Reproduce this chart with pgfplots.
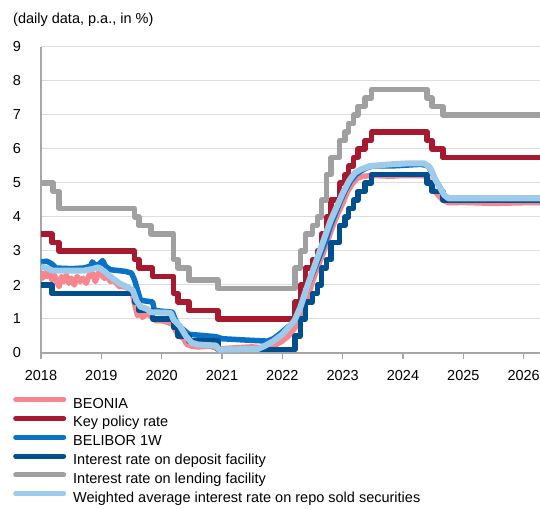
\documentclass[border=0pt]{standalone}
\usepackage{fontspec}
\setmainfont{Liberation Sans}
\usepackage{pgfplots}
\pgfplotsset{compat=1.18}
\definecolor{cBeonia}{HTML}{F7868F}
\definecolor{cKey}{HTML}{A6192E}
\definecolor{cBelibor}{HTML}{0A72C6}
\definecolor{cDep}{HTML}{00508F}
\definecolor{cLend}{HTML}{A0A0A0}
\definecolor{cRepo}{HTML}{9FCBEB}
\definecolor{cGrid}{HTML}{DDDDDD}
\definecolor{cAxis}{HTML}{A6A6A6}
\newcommand{\fs}{\fontsize{14.5}{17}\selectfont}
\begin{document}
\begin{tikzpicture}
\useasboundingbox (0,0) rectangle (540pt,508pt);
\node[anchor=base west, inner sep=0pt, font=\fs] at (13pt,484pt) {(daily data, p.a., in \%)};
\begin{axis}[
  at={(41pt,155pt)}, anchor=south west,
  scale only axis, width=499pt, height=306pt,
  xmin=2018, xmax=2026.27, ymin=0, ymax=9,
  xtick={2018,2019,...,2026}, ytick={0,1,...,9},
  /pgf/number format/1000 sep={},
  /pgf/number format/assume math mode=true,
  tick label style={font=\fs},
  axis lines*=left,
  axis line style={-, draw=cAxis, line width=1.6pt},
  ymajorgrids, grid style={draw=cGrid, line width=1pt},
  xtick style={draw=cAxis, line width=1.2pt}, tick align=outside, major tick length=6pt,
  ytick style={draw=none},
  yticklabel style={anchor=east, inner sep=0pt, xshift=-14pt},
  xticklabel style={anchor=north, inner sep=0pt, yshift=-11pt},
  clip=true,
  legend cell align=left,
  legend style={at={(axis description cs:-0.0561,-0.1437)}, anchor=north west,
    draw=none, fill=none, inner sep=0pt, row sep=3.8pt, font=\fs,
    nodes={inner sep=0pt, text height=11pt, text depth=4pt}},
  legend image code/.code={\draw[#1, line cap=round, line width=5pt] (2.5pt,5pt) -- (50.5pt,5pt); \path (57pt,0pt);},
]
% BEONIA
\addplot[cBeonia, line width=5.5pt, line join=round] coordinates {
(2018.00,2.40)(2018.03,2.20)(2018.06,2.35)(2018.10,2.25)(2018.14,2.40)(2018.18,2.15)
(2018.22,2.30)(2018.26,2.10)(2018.30,1.95)(2018.34,2.25)(2018.38,2.10)(2018.42,2.30)
(2018.46,2.05)(2018.50,2.20)(2018.55,2.00)(2018.60,2.25)(2018.65,2.10)(2018.70,2.20)
(2018.75,2.05)(2018.80,2.30)(2018.85,2.35)(2018.90,2.10)(2018.95,2.35)(2019.00,2.30)
(2019.05,2.20)(2019.10,2.25)(2019.15,2.10)(2019.20,2.15)(2019.25,2.05)(2019.30,1.95)
(2019.38,1.95)(2019.45,1.90)(2019.50,1.85)(2019.55,1.45)(2019.60,1.10)(2019.64,1.20)
(2019.68,1.05)(2019.75,1.15)(2019.80,1.10)(2019.85,1.05)(2019.90,0.95)(2020.00,0.95)
(2020.10,0.90)(2020.18,0.85)(2020.22,0.70)(2020.28,0.50)(2020.35,0.45)(2020.42,0.25)
(2020.50,0.20)(2020.60,0.18)(2020.80,0.20)(2020.95,0.12)(2021.20,0.15)(2021.50,0.18)
(2021.70,0.15)(2021.80,0.20)(2021.90,0.25)(2022.00,0.35)(2022.10,0.50)(2022.17,0.65)
(2022.25,0.85)(2022.33,1.20)(2022.42,1.65)(2022.50,2.10)(2022.58,2.50)(2022.67,2.90)
(2022.75,3.30)(2022.83,3.70)(2022.92,4.10)(2023.00,4.40)(2023.08,4.75)(2023.17,5.00)
(2023.25,5.15)(2023.35,5.20)(2023.50,5.22)(2023.80,5.20)(2024.00,5.22)(2024.35,5.22)
(2024.42,5.10)(2024.50,4.80)(2024.58,4.65)(2024.66,4.50)(2024.75,4.42)(2025.00,4.43)
(2025.50,4.40)(2026.00,4.42)(2026.30,4.42)};
\addlegendentry{BEONIA}
% Key policy rate
\addplot[cKey, line width=5.5pt, const plot, line join=round] coordinates {
(2018.00,3.50)(2018.18,3.25)(2018.30,3.00)(2019.55,2.75)(2019.62,2.50)(2019.85,2.25)
(2020.20,1.75)(2020.27,1.50)(2020.45,1.25)(2020.93,1.00)(2022.21,1.50)(2022.30,2.00)
(2022.38,2.50)(2022.50,2.75)(2022.58,3.00)(2022.65,3.50)(2022.73,4.00)(2022.81,4.50)
(2022.95,5.00)(2023.04,5.25)(2023.10,5.50)(2023.18,5.75)(2023.25,6.00)(2023.37,6.25)
(2023.48,6.50)(2024.40,6.25)(2024.48,6.00)(2024.66,5.75)(2026.30,5.75)};
\addlegendentry{Key policy rate}
% BELIBOR 1W
\addplot[cBelibor, line width=5.5pt, line join=round] coordinates {
(2018.00,2.68)(2018.10,2.70)(2018.18,2.62)(2018.25,2.50)(2018.50,2.48)(2018.70,2.50)
(2018.82,2.55)(2018.85,2.68)(2018.90,2.58)(2018.97,2.62)(2019.02,2.72)(2019.07,2.55)
(2019.15,2.45)(2019.40,2.40)(2019.50,2.35)(2019.55,2.15)(2019.60,1.85)(2019.65,1.55)
(2019.85,1.50)(2019.88,1.25)(2020.18,1.20)(2020.22,1.00)(2020.28,0.80)(2020.35,0.70)
(2020.45,0.55)(2020.90,0.48)(2021.00,0.42)(2021.40,0.38)(2021.75,0.35)(2021.85,0.42)
(2021.95,0.55)(2022.05,0.70)(2022.15,0.85)(2022.22,1.00)(2022.30,1.40)(2022.38,1.80)
(2022.47,2.20)(2022.55,2.55)(2022.63,2.90)(2022.72,3.30)(2022.80,3.75)(2022.88,4.10)
(2022.97,4.50)(2023.05,4.80)(2023.13,5.05)(2023.22,5.25)(2023.30,5.35)(2023.40,5.45)
(2023.50,5.50)(2023.80,5.50)(2024.00,5.52)(2024.30,5.55)(2024.42,5.50)(2024.48,5.30)
(2024.55,5.05)(2024.62,4.85)(2024.68,4.60)(2024.75,4.55)(2026.30,4.55)};
\addlegendentry{BELIBOR 1W}
% Deposit facility
\addplot[cDep, line width=5.5pt, const plot, line join=round] coordinates {
(2018.00,2.00)(2018.18,1.75)(2019.55,1.50)(2019.62,1.25)(2019.85,1.00)(2020.20,0.75)
(2020.27,0.50)(2020.45,0.35)(2020.93,0.10)(2022.21,0.50)(2022.30,1.00)(2022.38,1.50)
(2022.50,1.75)(2022.58,2.00)(2022.65,2.50)(2022.73,2.75)(2022.81,3.25)(2022.95,3.75)
(2023.04,4.00)(2023.10,4.25)(2023.18,4.50)(2023.25,4.75)(2023.37,5.00)(2023.48,5.25)
(2024.40,5.00)(2024.48,4.75)(2024.66,4.50)(2026.30,4.50)};
\addlegendentry{Interest rate on deposit facility}
% Lending facility
\addplot[cLend, line width=5.5pt, const plot, line join=round] coordinates {
(2018.00,5.00)(2018.20,4.75)(2018.30,4.25)(2019.55,4.00)(2019.62,3.75)(2019.82,3.50)
(2020.20,2.75)(2020.27,2.50)(2020.45,2.15)(2020.93,1.90)(2022.21,2.50)(2022.30,3.00)
(2022.38,3.50)(2022.50,3.75)(2022.58,4.00)(2022.65,4.50)(2022.73,5.25)(2022.81,5.75)
(2022.95,6.25)(2023.04,6.50)(2023.10,6.75)(2023.18,7.00)(2023.25,7.25)(2023.37,7.50)
(2023.48,7.75)(2024.40,7.50)(2024.48,7.25)(2024.66,7.00)(2026.30,7.00)};
\addlegendentry{Interest rate on lending facility}
% Repo
\addplot[cRepo, line width=6pt, line join=round] coordinates {
(2018.00,2.55)(2018.08,2.50)(2018.20,2.42)(2018.40,2.42)(2018.70,2.42)(2018.85,2.47)
(2018.95,2.52)(2019.05,2.40)(2019.15,2.25)(2019.30,2.05)(2019.45,1.92)(2019.52,1.85)
(2019.58,1.55)(2019.65,1.36)(2019.75,1.30)(2019.82,1.20)(2020.15,1.18)(2020.20,0.97)
(2020.30,0.80)(2020.40,0.50)(2020.50,0.30)(2020.60,0.25)(2020.90,0.22)(2020.95,0.10)
(2021.60,0.12)(2021.70,0.20)(2021.85,0.35)(2022.00,0.55)(2022.10,0.75)(2022.20,0.95)
(2022.30,1.35)(2022.40,1.90)(2022.50,2.40)(2022.60,2.90)(2022.70,3.40)(2022.80,3.90)
(2022.90,4.30)(2023.00,4.70)(2023.10,5.05)(2023.20,5.30)(2023.30,5.40)(2023.45,5.50)
(2023.80,5.55)(2024.10,5.58)(2024.35,5.58)(2024.45,5.45)(2024.52,5.15)(2024.60,4.90)
(2024.68,4.65)(2024.75,4.55)(2026.30,4.55)};
\addlegendentry{Weighted average interest rate on repo sold securities}
\end{axis}
\end{tikzpicture}
\end{document}
